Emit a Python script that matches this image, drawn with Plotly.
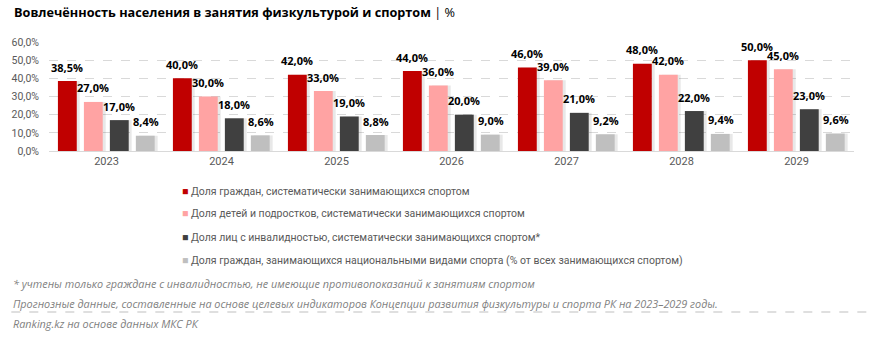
import plotly.graph_objects as go

years = ["2023", "2024", "2025", "2026", "2027", "2028", "2029"]
series_names = [
    "Доля граждан, систематически занимающихся спортом",
    "Доля детей и подростков, систематически занимающихся спортом",
    "Доля лиц с инвалидностью, систематически занимающихся спортом*",
    "Доля граждан, занимающихся национальными видами спорта (% от всех занимающихся спортом)",
]
citizens = [38.5, 40.0, 42.0, 44.0, 46.0, 48.0, 50.0]
children = [27.0, 30.0, 33.0, 36.0, 39.0, 42.0, 45.0]
disabled = [17.0, 18.0, 19.0, 20.0, 21.0, 22.0, 23.0]
national = [8.4, 8.6, 8.8, 9.0, 9.2, 9.4, 9.6]
series_values = [citizens, children, disabled, national]
colors = ["#C00000", "#FFA3A3", "#404040", "#BFBFBF"]
y_ticks = [0, 10, 20, 30, 40, 50, 60]
y_tick_labels = ["0,0%", "10,0%", "20,0%", "30,0%", "40,0%", "50,0%", "60,0%"]

title = "<b>Вовлечённость населения в занятия физкультурой и спортом</b> | %"
footnote1 = "* учтены только граждане с инвалидностью, не имеющие противопоказаний к занятиям спортом"
footnote2 = "Прогнозные данные, составленные на основе целевых индикаторов Концепции развития физкультуры и спорта РК на 2023–2029 годы."
source = "Ranking.kz на основе данных МКС РК"

W, H = 872, 338
L, R, T, B = 42, 18, 42, 187
PW = W - L - R
PH = H - T - B
cat_px = PW / len(years)

bar_w = 19 / cat_px
slot = 26.2 / cat_px
first_off = -49 / cat_px


def fmt(v):
    return f"{v:.1f}".replace(".", ",") + "%"


def px_x(p):
    return (p - L) / PW


def px_y(p):
    return (H - B - p) / PH


fig = go.Figure()
annotations = []
for i, (name, vals, col) in enumerate(zip(series_names, series_values, colors)):
    off = first_off + i * slot
    # soft shadow
    fig.add_trace(go.Bar(
        x=years, y=vals, width=bar_w, offset=off + 3 / cat_px,
        marker=dict(color="rgba(0,0,0,0.09)", line=dict(width=0)),
        showlegend=False, hoverinfo="skip",
    ))
    fig.add_trace(go.Bar(
        x=years, y=vals, width=bar_w, offset=off, name=name,
        marker=dict(color=col, line=dict(width=0)),
        showlegend=False,
    ))
    for j, v in enumerate(vals):
        annotations.append(dict(
            x=j, y=v, xref="x", yref="y", text=f"<b>{fmt(v)}</b>", showarrow=False,
            xshift=(off + bar_w / 2) * cat_px, yshift=14, yanchor="middle",
            font=dict(family="Open Sans", size=11, color="#000000"),
        ))
    # legend entry
    ly = 191 + i * 23
    annotations.append(dict(
        xref="paper", yref="paper", x=px_x(174), y=px_y(ly), xanchor="left", yanchor="middle",
        text=f'<span style="color:{col}">■</span> {name}', showarrow=False,
        font=dict(family="Roboto", size=10.5, color="#595959"),
    ))

annotations.append(dict(
    xref="paper", yref="paper", x=px_x(5), y=px_y(12), xanchor="left", yanchor="middle",
    text=title, showarrow=False, font=dict(family="Open Sans", size=12.7, color="#000000"),
))
for txt, yy in [(footnote1, 283), (footnote2, 303), (source, 323)]:
    annotations.append(dict(
        xref="paper", yref="paper", x=px_x(4), y=px_y(yy), xanchor="left", yanchor="middle",
        text=f"<i>{txt}</i>", showarrow=False,
        font=dict(family="Open Sans", size=10.85, color="#7F7F7F"),
    ))

fig.add_shape(type="line", xref="paper", yref="paper", x0=px_x(4), x1=px_x(868),
              y0=px_y(312), y1=px_y(312), line=dict(color="#BFBFBF", width=1, dash="dash"))

fig.update_layout(
    width=W, height=H, margin=dict(l=L, r=R, t=T, b=B),
    barmode="overlay", plot_bgcolor="white", paper_bgcolor="white",
    annotations=annotations, showlegend=False,
    font=dict(family="Open Sans", color="#595959"),
)
fig.update_xaxes(
    type="category", showgrid=False, showline=True, linecolor="#D9D9D9", linewidth=1,
    ticks="", tickfont=dict(family="Roboto", size=11, color="#595959"), range=[-0.5, 6.5],
)
fig.update_yaxes(
    range=[0, 60], tickvals=y_ticks, ticktext=y_tick_labels, showgrid=True,
    gridcolor="#D9D9D9", griddash="dash", zeroline=False, showline=False,
    tickfont=dict(family="Roboto", size=10.5, color="#595959"), ticklabelstandoff=9,
)

fig.write_html("out.html")
